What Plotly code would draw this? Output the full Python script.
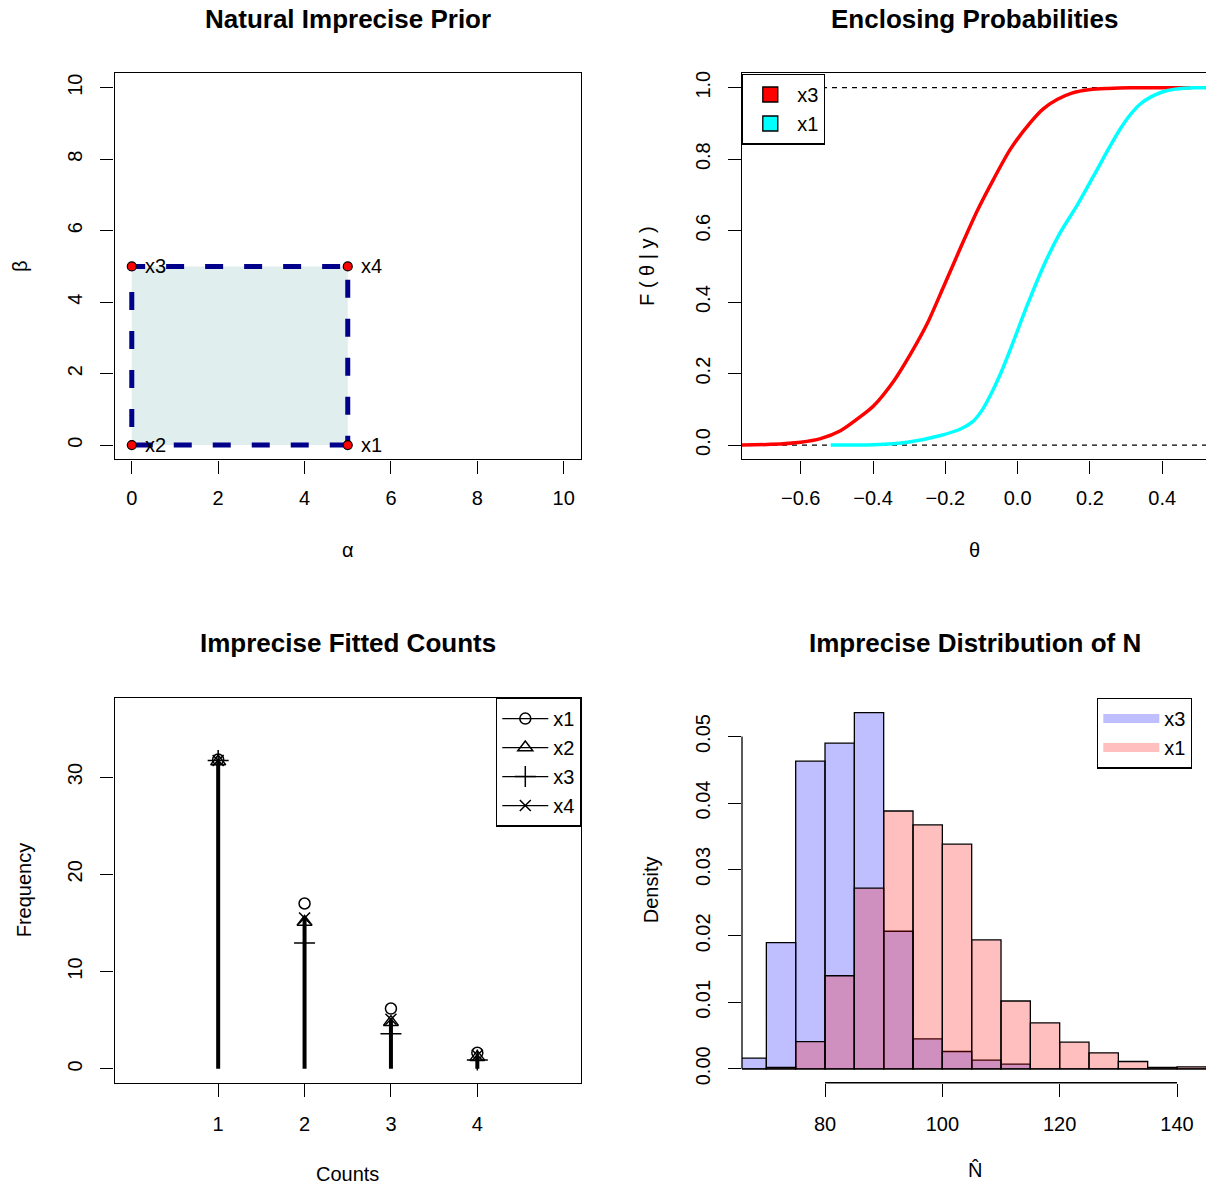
import plotly.graph_objects as go

# ---------------- data ----------------
# Panel 1: natural imprecise prior (corners of the prior set)
prior_alpha = [5, 0, 0, 5]
prior_beta = [0, 0, 5, 5]
prior_labels = ["x1", "x2", "x3", "x4"]

# Panel 2: enclosing posterior CDFs
theta_x3 = [-0.77, -0.683, -0.60, -0.545, -0.49, -0.434, -0.398, -0.342, -0.296, -0.25,
            -0.204, -0.158, -0.112, -0.066, -0.02, 0.035, 0.07, 0.109, 0.15, 0.201,
            0.25, 0.312, 0.40, 0.478]
cdf_x3 = [0.0, 0.002, 0.008, 0.018, 0.040, 0.080, 0.110, 0.180, 0.255, 0.340,
          0.445, 0.552, 0.655, 0.745, 0.828, 0.902, 0.94, 0.967, 0.985, 0.995,
          0.998, 1.0, 1.0, 1.0]
theta_x1 = [-0.517, -0.45, -0.398, -0.305, -0.213, -0.158, -0.126, -0.10, -0.075, -0.045,
            -0.020, 0.026, 0.072, 0.118, 0.164, 0.210, 0.256, 0.284, 0.312, 0.340,
            0.37, 0.40, 0.436, 0.49, 0.53]
cdf_x1 = [0.0, 0.0005, 0.001, 0.008, 0.027, 0.045, 0.064, 0.095, 0.140, 0.205,
          0.268, 0.390, 0.502, 0.595, 0.670, 0.753, 0.837, 0.885, 0.925, 0.955,
          0.975, 0.988, 0.996, 1.0, 1.0]
ref_levels = [0, 1]

# Panel 3: imprecise fitted counts
counts = [1, 2, 3, 4]
fit_x1 = [31.8, 17.0, 6.2, 1.65]
fit_x2 = [31.6, 15.1, 4.8, 1.2]
fit_x3 = [31.7, 12.95, 3.6, 0.9]
fit_x4 = [31.7, 15.5, 5.1, 1.4]

# Panel 4: imprecise distribution of N (histogram densities, bin width 5)
bin_start = [65, 70, 75, 80, 85, 90, 95, 100, 105, 110, 115, 120, 125, 130, 135, 140]
bin_width = 5
dens_x3 = [0.0016, 0.0190, 0.0463, 0.0490, 0.0536, 0.0207, 0.0045, 0.0026, 0.0013, 0.0007,
           0, 0, 0, 0, 0, 0]
dens_x1 = [0, 0.0002, 0.0041, 0.0140, 0.0272, 0.0388, 0.0367, 0.0338, 0.0194, 0.0102,
           0.0069, 0.0040, 0.0024, 0.0011, 0.0002, 0.0003]

ticks_ab = [0, 2, 4, 6, 8, 10]
ticks_theta = [-0.6, -0.4, -0.2, 0.0, 0.2, 0.4]
ticks_F = [0.0, 0.2, 0.4, 0.6, 0.8, 1.0]
ticks_counts = [1, 2, 3, 4]
ticks_freq = [0, 10, 20, 30]
ticks_N = [80, 100, 120, 140]
ticks_dens = [0.00, 0.01, 0.02, 0.03, 0.04, 0.05]

# ---------------- layout helpers ----------------
W, H = 1206, 1189
FONT = "Liberation Sans, Arial, Helvetica, sans-serif"


def xd(left, right):
    return [left / W, min(right / W, 1.0)]


def yd(top, bottom):
    return [1 - bottom / H, 1 - top / H]


def px(xp):
    return xp / W


def py(yp):
    return 1 - yp / H


axis_common = dict(showline=True, linecolor="black", linewidth=1.3, ticks="outside",
                   ticklen=13, tickwidth=1.3, tickcolor="black", showgrid=False,
                   zeroline=False, tickfont=dict(size=20, color="black", family=FONT),
                   ticklabelstandoff=7)
yaxis_common = dict(axis_common, ticklabelstandoff=10, tickangle=-90)

fig = go.Figure()

# ---------- Panel 1 ----------
poly_a = prior_alpha + [prior_alpha[0]]
poly_b = prior_beta + [prior_beta[0]]
fig.add_trace(go.Scatter(x=poly_a, y=poly_b, mode="lines", fill="toself",
                         fillcolor="#E0EEEE", line=dict(width=0), hoverinfo="skip",
                         showlegend=False, xaxis="x", yaxis="y"))
fig.add_trace(go.Scatter(x=poly_a, y=poly_b, mode="lines",
                         line=dict(color="#00008B", width=5, dash="18px,21px"),
                         showlegend=False, xaxis="x", yaxis="y"))
fig.add_trace(go.Scatter(x=prior_alpha, y=prior_beta, mode="markers",
                         marker=dict(color="red", size=9, line=dict(color="black", width=1.2)),
                         showlegend=False, xaxis="x", yaxis="y"))

# ---------- Panel 2 ----------
fig.add_trace(go.Scatter(x=theta_x3, y=cdf_x3, mode="lines",
                         line=dict(color="red", width=3.5, shape="spline", smoothing=0.7),
                         showlegend=False, xaxis="x2", yaxis="y2"))
fig.add_trace(go.Scatter(x=theta_x1, y=cdf_x1, mode="lines",
                         line=dict(color="cyan", width=3.5, shape="spline", smoothing=0.7),
                         showlegend=False, xaxis="x2", yaxis="y2"))
for nm, col in [("x3", "red"), ("x1", "cyan")]:
    fig.add_trace(go.Scatter(x=[None], y=[None], mode="markers", name=nm,
                             marker=dict(symbol="square", color=col, size=15,
                                         line=dict(color="black", width=1.3)),
                             legend="legend", xaxis="x2", yaxis="y2"))

# ---------- Panel 3 ----------
stem_x, stem_y = [], []
for c, v in zip(counts, fit_x4):
    stem_x += [c, c, None]
    stem_y += [0, v, None]
fig.add_trace(go.Scatter(x=stem_x, y=stem_y, mode="lines", line=dict(color="black", width=4),
                         showlegend=False, xaxis="x3", yaxis="y3"))
series = [("x1", fit_x1, "circle-open", 11), ("x2", fit_x2, "triangle-up-open", 13),
          ("x3", fit_x3, "cross-thin-open", 15), ("x4", fit_x4, "x-thin-open", 11)]
for nm, vals, sym, sz in series:
    fig.add_trace(go.Scatter(x=counts, y=vals, mode="markers",
                             marker=dict(symbol=sym, size=sz, color="black",
                                         line=dict(color="black", width=1.5)),
                             showlegend=False, xaxis="x3", yaxis="y3"))
    fig.add_trace(go.Scatter(x=[None], y=[None], mode="lines+markers", name=nm,
                             line=dict(color="black", width=1.3),
                             marker=dict(symbol=sym, size=sz, color="black",
                                         line=dict(color="black", width=1.5)),
                             legend="legend2", xaxis="x3", yaxis="y3"))

# ---------- Panel 4 ----------
centers = [s + bin_width / 2 for s in bin_start]
fig.add_trace(go.Bar(x=centers, y=dens_x3, width=bin_width,
                     marker=dict(color="rgba(0,0,255,0.25)", line=dict(color="black", width=1.3)),
                     showlegend=False, xaxis="x4", yaxis="y4"))
fig.add_trace(go.Bar(x=centers, y=dens_x1, width=bin_width,
                     marker=dict(color="rgba(255,0,0,0.25)", line=dict(color="black", width=1.3)),
                     showlegend=False, xaxis="x4", yaxis="y4"))
for nm, col in [("x3", "rgba(0,0,255,0.25)"), ("x1", "rgba(255,0,0,0.25)")]:
    fig.add_trace(go.Scatter(x=[None], y=[None], mode="lines", name=nm,
                             line=dict(color=col, width=9),
                             legend="legend3", xaxis="x4", yaxis="y4"))

# ---------- axes ----------
top_row = yd(70.7, 458.3)
bot_row = yd(697.7, 1084.3)
left_col = xd(114.5, 581)
right_col = xd(742, 1206)

leg_common = dict(yanchor="top", bgcolor="white", bordercolor="black", borderwidth=1.3,
                  font=dict(size=20, family=FONT, color="black"))

fig.update_layout(
    width=W, height=H, margin=dict(l=0, r=0, t=0, b=0),
    plot_bgcolor="white", paper_bgcolor="white",
    font=dict(family=FONT, color="black"),
    barmode="overlay",
    xaxis=dict(axis_common, domain=left_col, anchor="y", range=[-0.4, 10.4],
               tickvals=ticks_ab, mirror=True),
    yaxis=dict(yaxis_common, domain=top_row, anchor="x", range=[-0.4, 10.4],
               tickvals=ticks_ab, mirror=True),
    xaxis2=dict(axis_common, domain=right_col, anchor="y2", range=[-0.7623, 0.5209],
                tickvals=ticks_theta, ticktext=["\u22120.6", "\u22120.4", "\u22120.2", "0.0", "0.2", "0.4"],
                mirror=True),
    yaxis2=dict(yaxis_common, domain=top_row, anchor="x2", range=[-0.04, 1.04],
                tickvals=ticks_F, tickformat=".1f"),
    xaxis3=dict(axis_common, domain=left_col, anchor="y3", range=[-0.2, 5.2],
                tickvals=ticks_counts, mirror=True, ticklabelstandoff=10),
    yaxis3=dict(yaxis_common, domain=bot_row, anchor="x3", range=[-1.43, 38.15],
                tickvals=ticks_freq, mirror=True),
    xaxis4=dict(axis_common, domain=right_col, anchor="y4", range=[65.85, 144.94],
                tickvals=ticks_N, showline=False, ticklabelstandoff=10),
    yaxis4=dict(yaxis_common, domain=bot_row, anchor="x4", range=[-0.0021, 0.05584],
                tickvals=ticks_dens, tickformat=".2f", showline=False),
    legend=dict(leg_common, x=px(742), y=py(71), xanchor="left", itemwidth=44),
    legend2=dict(leg_common, x=px(581), y=py(697.7), xanchor="right", itemwidth=46),
    legend3=dict(leg_common, x=px(1097), y=py(697.7), xanchor="left", itemwidth=56),
)

# R-style axis lines for the histogram (from first to last tick)
shapes = [
    dict(type="line", xref="x4", yref="y4 domain", x0=ticks_N[0], x1=ticks_N[-1], y0=0, y1=0,
         line=dict(color="black", width=1.3)),
    dict(type="line", xref="x4 domain", yref="y4", x0=0, x1=0, y0=ticks_dens[0], y1=ticks_dens[-1],
         line=dict(color="black", width=1.3)),
]
for lv in ref_levels:
    shapes.append(dict(type="line", xref="x2 domain", yref="y2", x0=0, x1=1, y0=lv, y1=lv,
                       line=dict(color="black", width=1.3, dash="5px,5px"), layer="below"))
fig.update_layout(shapes=shapes)

# ---------- text ----------
ann = []
for a, b, lab in zip(prior_alpha, prior_beta, prior_labels):
    ann.append(dict(x=a, y=b, xref="x", yref="y", text=lab, showarrow=False,
                    xanchor="left", yanchor="middle", xshift=11, font=dict(size=20, color="black")))


def txt(x, y, s, size=20, bold=False, angle=0):
    return dict(x=px(x), y=py(y), xref="paper", yref="paper", text=(f"<b>{s}</b>" if bold else s),
                showarrow=False, xanchor="center", yanchor="middle", textangle=angle,
                font=dict(size=size, color="black", family=FONT))


ann += [
    txt(347.5, 16, "Natural Imprecise Prior", 26, True),
    txt(974.5, 16, "Enclosing Probabilities", 26, True),
    txt(347.5, 643, "Imprecise Fitted Counts", 26, True),
    txt(974.5, 643, "Imprecise Distribution of N", 26, True),
    txt(347.5, 549, "\u03b1"),
    txt(974.5, 549, "\u03b8"),
    txt(347.5, 1176, "Counts"),
    txt(974.5, 1172, "N\u0302"),
    txt(20, 264, "\u03b2", angle=-90),
    txt(647, 264, "F ( \u03b8 | y )", angle=-90),
    txt(24, 891, "Frequency", angle=-90),
    txt(651, 891, "Density", angle=-90),
]
fig.update_layout(annotations=ann)

fig.write_html("out.html")
